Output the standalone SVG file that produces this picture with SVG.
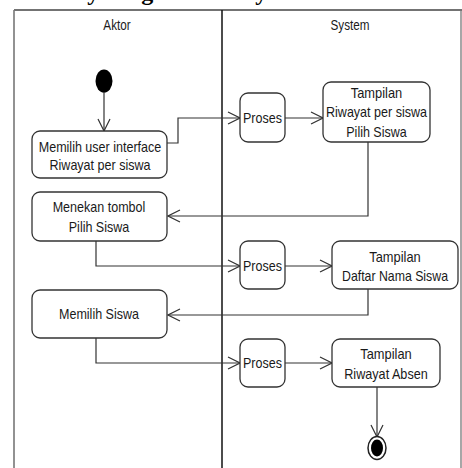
<svg xmlns="http://www.w3.org/2000/svg" width="462" height="468" viewBox="0 0 462 468">
<defs>
<style>
.t{font-family:"Liberation Sans Narrow","Arial Narrow","Liberation Sans",sans-serif;font-size:15px;fill:#1a1a1a;text-anchor:middle}
.h{font-family:"Liberation Sans Narrow","Arial Narrow","Liberation Sans",sans-serif;font-size:14px;fill:#1a1a1a;text-anchor:middle}
.n{fill:#fff;stroke:#333;stroke-width:1.3}
.c{fill:none;stroke:#333;stroke-width:1.2}
.title{font-family:"Liberation Serif",serif;font-size:24px;font-weight:bold;fill:#000}
</style>
<marker id="a" markerWidth="14" markerHeight="14" refX="13" refY="7" orient="auto" markerUnits="userSpaceOnUse">
<path d="M1,1 L13,7 L1,13" fill="none" stroke="#333" stroke-width="1.2"/>
</marker>
</defs>
<rect width="462" height="468" fill="#fff"/>
<text class="title" x="18" y="0">Activity Diagram Riwayat Absen</text>
<g id="frame">
<line x1="14" y1="10" x2="462" y2="10" stroke="#444" stroke-width="1.3"/>
<line x1="14" y1="10" x2="14" y2="468" stroke="#777" stroke-width="1.6"/>
<line x1="222" y1="10" x2="222" y2="468" stroke="#111" stroke-width="1.5"/>
<line x1="461" y1="10" x2="461" y2="468" stroke="#777" stroke-width="1.3"/>
<text class="h" x="117" y="30" textLength="27.3" lengthAdjust="spacingAndGlyphs">Aktor</text>
<text class="h" x="350" y="30" textLength="39" lengthAdjust="spacingAndGlyphs">System</text>
</g>
<g id="connectors">
<line class="c" x1="104" y1="92" x2="104" y2="131" marker-end="url(#a)"/>
<polyline class="c" points="167,143 178,143 178,118 240,118" marker-end="url(#a)"/>
<line class="c" x1="285" y1="118" x2="323" y2="118" marker-end="url(#a)"/>
<polyline class="c" points="368,142 368,216 168,216" marker-end="url(#a)"/>
<polyline class="c" points="96,241 96,266 240,266" marker-end="url(#a)"/>
<line class="c" x1="285" y1="266" x2="332" y2="266" marker-end="url(#a)"/>
<polyline class="c" points="368,289 368,315 168,315" marker-end="url(#a)"/>
<polyline class="c" points="96,338 96,363 240,363" marker-end="url(#a)"/>
<line class="c" x1="285" y1="363" x2="332" y2="363" marker-end="url(#a)"/>
<line class="c" x1="377" y1="387" x2="377" y2="437" marker-end="url(#a)"/>
</g>
<g id="start"><ellipse cx="104" cy="81" rx="8.5" ry="11.5" fill="#000"/></g>
<g id="n1"><rect class="n" x="32" y="131" width="135" height="47" rx="8"/>
<text class="t" x="100" y="152" textLength="122.5" lengthAdjust="spacingAndGlyphs">Memilih user interface</text><text class="t" x="100" y="170" textLength="101" lengthAdjust="spacingAndGlyphs">Riwayat per siswa</text></g>
<g id="p1"><rect class="n" x="240" y="93" width="45" height="49" rx="8"/>
<text class="t" x="262.5" y="123" textLength="39" lengthAdjust="spacingAndGlyphs">Proses</text></g>
<g id="s1"><rect class="n" x="323" y="82" width="107" height="60" rx="8"/>
<text class="t" x="376.5" y="98" textLength="51.5" lengthAdjust="spacingAndGlyphs">Tampilan</text><text class="t" x="376.5" y="117" textLength="101" lengthAdjust="spacingAndGlyphs">Riwayat per siswa</text><text class="t" x="376.5" y="137" textLength="60.5" lengthAdjust="spacingAndGlyphs">Pilih Siswa</text></g>
<g id="n2"><rect class="n" x="32" y="192" width="135" height="49" rx="8"/>
<text class="t" x="99" y="212" textLength="92.6" lengthAdjust="spacingAndGlyphs">Menekan tombol</text><text class="t" x="99" y="232" textLength="60.5" lengthAdjust="spacingAndGlyphs">Pilih Siswa</text></g>
<g id="p2"><rect class="n" x="240" y="241" width="45" height="48" rx="8"/>
<text class="t" x="262.5" y="271" textLength="39" lengthAdjust="spacingAndGlyphs">Proses</text></g>
<g id="s2"><rect class="n" x="332" y="241" width="126" height="48" rx="8"/>
<text class="t" x="395" y="262" textLength="51.5" lengthAdjust="spacingAndGlyphs">Tampilan</text><text class="t" x="395" y="281" textLength="106" lengthAdjust="spacingAndGlyphs">Daftar Nama Siswa</text></g>
<g id="n3"><rect class="n" x="32" y="290" width="135" height="48" rx="8"/>
<text class="t" x="99" y="319" textLength="80" lengthAdjust="spacingAndGlyphs">Memilih Siswa</text></g>
<g id="p3"><rect class="n" x="240" y="339" width="45" height="48" rx="8"/>
<text class="t" x="262.5" y="368" textLength="39" lengthAdjust="spacingAndGlyphs">Proses</text></g>
<g id="s3"><rect class="n" x="332" y="339" width="108" height="48" rx="8"/>
<text class="t" x="386" y="359" textLength="51.5" lengthAdjust="spacingAndGlyphs">Tampilan</text><text class="t" x="386" y="379" textLength="83.5" lengthAdjust="spacingAndGlyphs">Riwayat Absen</text></g>
<g id="end"><ellipse cx="377" cy="448" rx="9" ry="11.5" fill="#fff" stroke="#222" stroke-width="1.5"/>
<ellipse cx="377" cy="448" rx="6" ry="8.5" fill="#000"/></g>
</svg>
